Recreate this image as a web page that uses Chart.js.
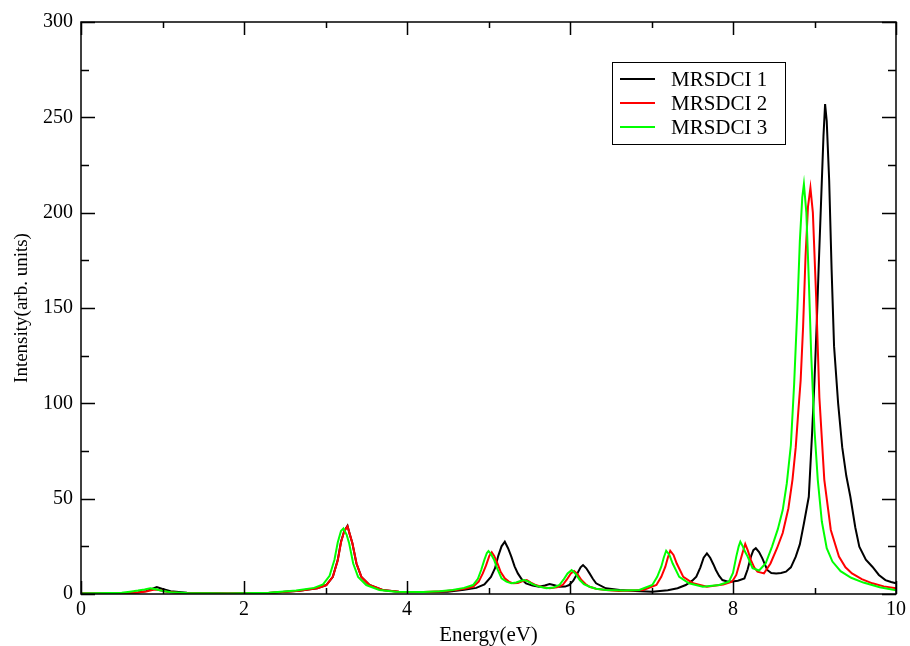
<!DOCTYPE html>
<html>
<head>
  <title>MRSDCI spectra</title>
  <script src="https://cdn.jsdelivr.net/npm/chart.js"></script>
  <style>
    html, body {
      margin: 0;
      padding: 0;
      background: #fff;
    }
  </style>
</head>
<body>
  <canvas id="myChart" width="910" height="646"></canvas>
  <script>
    const seriesNames = ['MRSDCI 1', 'MRSDCI 2', 'MRSDCI 3'];
    const seriesColors = ['#000000', '#ff0000', '#00ff00'];
    const xTickValues = [0, 2, 4, 6, 8, 10];
    const yTickValues = [0, 50, 100, 150, 200, 250, 300];

    // MRSDCI 1
    const energy1 = [
      0, 0.5, 0.7, 0.8, 0.87, 0.93, 1.0, 1.1, 1.3, 1.8,
      2.3, 2.68, 2.9, 3.01, 3.09, 3.15, 3.19, 3.23, 3.27, 3.3,
      3.33, 3.38, 3.44, 3.54, 3.7, 3.9, 4.2, 4.5, 4.7, 4.85,
      4.95, 5.03, 5.08, 5.12, 5.16, 5.2, 5.24, 5.28, 5.32, 5.36,
      5.41, 5.46, 5.54, 5.62, 5.69, 5.75, 5.81, 5.87, 5.94, 5.99,
      6.04, 6.09, 6.13, 6.16, 6.2, 6.24, 6.28, 6.32, 6.44, 6.61,
      6.8, 7.01, 7.2, 7.32, 7.42, 7.5, 7.55, 7.6, 7.64, 7.68,
      7.72, 7.76, 7.79, 7.83, 7.87, 7.93, 7.99, 8.06, 8.14, 8.18,
      8.22, 8.25, 8.28, 8.32, 8.36, 8.42, 8.47, 8.53, 8.59, 8.65,
      8.71, 8.77, 8.82, 8.87, 8.93, 8.97, 9.0, 9.03, 9.05, 9.08,
      9.11, 9.13, 9.15, 9.18, 9.21, 9.24, 9.29, 9.34, 9.39, 9.44,
      9.5, 9.55, 9.63, 9.71, 9.79, 9.87, 9.94, 10
    ];
    const intensity1 = [
      0.2, 0.4, 0.8, 1.5, 2.6, 3.6, 2.6, 1.5, 0.6, 0.3,
      0.5, 1.7, 3, 4.7, 9, 17.8, 27.4, 33, 35.8, 31,
      26.6, 16, 9, 4.7, 2.1, 1.2, 1, 1.2, 2.2, 3.2,
      5, 9, 13.5, 20, 25, 27.4, 24, 19.6, 14.5, 10.8,
      7.6, 5.6, 4.4, 3.8, 4.5, 5.2, 4.6, 3.8, 3.9, 4.7,
      7, 10.8, 14, 15.2, 13.5, 10.8, 8, 5.6, 3, 2.1,
      1.6, 1.2, 2, 3, 4.7, 7, 9.1, 14, 19, 21.3,
      19, 15.5, 12.6, 9.5, 7.3, 6.6, 6.5, 7, 8.2, 13,
      19.6, 23, 24, 22, 18.7, 12.6, 11, 10.8, 11, 11.7,
      14, 19.6, 26, 37, 51, 84, 112, 145, 170, 205,
      240, 257, 248, 217, 170, 130, 100, 77, 62, 51,
      35, 24.8, 18, 14.3, 10, 7.3, 6.3, 5.6
    ];

    // MRSDCI 2
    const energy2 = [
      0, 0.5, 0.7, 0.8, 0.86, 0.91, 0.97, 1.05, 1.2, 1.8,
      2.3, 2.68, 2.9, 3.01, 3.09, 3.15, 3.19, 3.23, 3.27, 3.3,
      3.33, 3.38, 3.44, 3.54, 3.7, 3.9, 4.2, 4.45, 4.6, 4.72,
      4.81, 4.88, 4.93, 4.97, 5.01, 5.04, 5.07, 5.11, 5.15, 5.2,
      5.25, 5.3, 5.36, 5.42, 5.47, 5.52, 5.58, 5.66, 5.75, 5.84,
      5.91, 5.96, 6.01, 6.05, 6.09, 6.14, 6.19, 6.24, 6.32, 6.44,
      6.6, 6.9, 7.06, 7.12, 7.17, 7.2, 7.23, 7.27, 7.31, 7.39,
      7.51, 7.68, 7.88, 7.99, 8.04, 8.08, 8.12, 8.15, 8.18, 8.22,
      8.26, 8.3, 8.38, 8.46, 8.54, 8.61, 8.68, 8.73, 8.77, 8.8,
      8.83, 8.86, 8.89, 8.92, 8.95, 8.98, 9.02, 9.06, 9.12, 9.2,
      9.3, 9.38, 9.46, 9.58, 9.71, 9.85, 10
    ];
    const intensity2 = [
      0.2, 0.4, 0.8, 1.3, 2, 2.4, 2, 1.2, 0.5, 0.3,
      0.5, 1.7, 3, 4.7, 9, 17.5, 27, 33, 35.5, 31,
      26.6, 16, 9, 4.7, 2.1, 1.2, 1, 1.4, 2.1, 2.9,
      3.8, 6.5, 10.8, 15, 20, 21.9, 20, 16, 11.5, 8.2,
      6.5, 5.6, 5.8, 6.8, 7.3, 6, 4.7, 3.6, 3, 3.5,
      4.7, 7.5, 10.8, 12, 10.5, 7.3, 5.2, 3.8, 2.8, 2.1,
      1.6, 2.1, 4.7, 9, 14.3, 19, 22.7, 20.5, 16, 9,
      5.6, 3.8, 5, 6.5, 10, 16, 22, 26.2, 23, 17.8,
      14, 11.7, 10.8, 16, 24, 32, 45, 60, 77, 95,
      112, 140, 177, 203, 213, 200, 156, 103, 60, 33.6,
      19.6, 14, 10.8, 7.8, 5.6, 4, 3
    ];

    // MRSDCI 3
    const energy3 = [
      0, 0.5, 0.6, 0.7, 0.78, 0.85, 0.92, 0.99, 1.1, 1.3,
      1.8, 2.3, 2.64, 2.86, 2.97, 3.05, 3.11, 3.15, 3.19, 3.22,
      3.26, 3.29, 3.34, 3.4, 3.5, 3.66, 3.86, 4.2, 4.4, 4.56,
      4.7, 4.81, 4.87, 4.91, 4.95, 4.98, 5.0, 5.03, 5.07, 5.11,
      5.16, 5.22, 5.28, 5.34, 5.39, 5.44, 5.49, 5.54, 5.62, 5.71,
      5.8, 5.87, 5.92, 5.97, 6.02, 6.07, 6.12, 6.17, 6.24, 6.32,
      6.44, 6.65, 6.85, 7.01, 7.07, 7.12, 7.15, 7.18, 7.22, 7.26,
      7.34, 7.46, 7.63, 7.83, 7.95, 8.0, 8.04, 8.07, 8.09, 8.12,
      8.15, 8.18, 8.24, 8.32, 8.4, 8.48, 8.55, 8.61, 8.66, 8.71,
      8.75, 8.79, 8.82, 8.85, 8.87, 8.9, 8.93, 8.96, 9.0, 9.04,
      9.09, 9.15, 9.22, 9.32, 9.45, 9.6, 9.8, 10
    ];
    const intensity3 = [
      0.2, 0.6, 1.2, 1.8, 2.4, 3, 2.5, 1.7, 0.9, 0.5,
      0.3, 0.6, 1.8, 3.2, 5, 9.5, 18, 27, 33, 34.4,
      31, 26.6, 16, 9, 4.7, 2.1, 1.2, 1, 1.4, 2.1,
      3.2, 4.7, 8, 12.6, 18, 21.5, 22.5, 21, 17.8, 13,
      8.2, 6.5, 5.6, 6, 6.8, 7.3, 6.5, 5.2, 3.9, 3,
      3.4, 4.7, 7.5, 10.8, 12.6, 10.5, 7.3, 5.2, 3.8, 2.8,
      2.1, 1.8, 2.1, 4.7, 9, 14.3, 19, 22.7, 20.5, 16,
      9, 5.6, 3.8, 4.7, 6.5, 11, 19.6, 25, 27.4, 25,
      22, 19.6, 13.5, 12.3, 16, 25, 34, 44, 58, 78,
      110, 150, 185, 208, 215, 200, 165, 125, 86, 60,
      38, 24, 17, 12, 8.5, 6, 3.5, 2
    ];

    const energies = [energy1, energy2, energy3];
    const intensities = [intensity1, intensity2, intensity3];
    const serifFont = '"Liberation Serif", "Times New Roman", serif';

    // frame round the plot with inward ticks on all four sides
    const frameTicks = {
      id: 'frameTicks',
      afterDatasetsDraw(chart) {
        const { ctx, chartArea: a, scales: { x, y } } = chart;
        ctx.save();
        ctx.strokeStyle = '#000';
        ctx.lineWidth = 1.5;
        ctx.beginPath();
        for (let v = 0; v <= 10; v += 1) {
          const px = Math.round(x.getPixelForValue(v)) + 0.5;
          const len = v % 2 === 0 ? 13 : 6;
          ctx.moveTo(px, a.bottom);
          ctx.lineTo(px, a.bottom - len);
          ctx.moveTo(px, a.top);
          ctx.lineTo(px, a.top + len);
        }
        for (let v = 0; v <= 300; v += 25) {
          const py = Math.round(y.getPixelForValue(v)) + 0.5;
          const len = v % 50 === 0 ? 14 : 8;
          ctx.moveTo(a.left, py);
          ctx.lineTo(a.left + len, py);
          ctx.moveTo(a.right, py);
          ctx.lineTo(a.right - len, py);
        }
        ctx.stroke();
        ctx.strokeRect(a.left, a.top, a.right - a.left, a.bottom - a.top);
        ctx.restore();
      }
    };

    // boxed legend inside the plot, upper right
    const boxLegend = {
      id: 'boxLegend',
      afterDraw(chart) {
        const ctx = chart.ctx;
        const bx = 612, by = 62, bw = 173, bh = 82;
        ctx.save();
        ctx.fillStyle = '#fff';
        ctx.fillRect(bx, by, bw, bh);
        ctx.strokeStyle = '#000';
        ctx.lineWidth = 1;
        ctx.strokeRect(bx + 0.5, by + 0.5, bw, bh);
        ctx.font = '21px ' + serifFont;
        ctx.textBaseline = 'middle';
        ctx.textAlign = 'left';
        chart.data.datasets.forEach((ds, i) => {
          const ly = by + 17 + i * 24;
          ctx.strokeStyle = ds.borderColor;
          ctx.lineWidth = 2;
          ctx.beginPath();
          ctx.moveTo(bx + 8, ly);
          ctx.lineTo(bx + 43, ly);
          ctx.stroke();
          ctx.fillStyle = '#000';
          ctx.fillText(ds.label, bx + 59, ly + 1);
        });
        ctx.restore();
      }
    };

    const ctx = document.getElementById('myChart').getContext('2d');
    const chart = new Chart(ctx, {
      type: 'line',
      data: {
        datasets: seriesNames.map((name, i) => ({
          label: name,
          data: energies[i].map((e, j) => ({ x: e, y: intensities[i][j] })),
          borderColor: seriesColors[i],
          borderWidth: 2,
          pointRadius: 0,
          tension: 0,
          fill: false,
          order: 2 - i
        }))
      },
      options: {
        responsive: false,
        animation: false,
        layout: { padding: { top: 22, right: 13, left: 0, bottom: 0 } },
        plugins: {
          legend: { display: false },
          tooltip: { enabled: false }
        },
        scales: {
          x: {
            type: 'linear',
            min: 0,
            max: 10,
            afterBuildTicks: s => { s.ticks = xTickValues.map(v => ({ value: v })); },
            afterFit: s => { s.height = 52; },
            grid: { display: false, drawTicks: false },
            border: { display: false },
            ticks: {
              color: '#000',
              padding: 4,
              maxRotation: 0,
              font: { family: serifFont, size: 20 }
            },
            title: {
              display: true,
              text: 'Energy(eV)',
              color: '#000',
              padding: { top: 0, bottom: 0 },
              font: { family: serifFont, size: 21, lineHeight: 1 }
            }
          },
          y: {
            type: 'linear',
            min: 0,
            max: 300,
            afterBuildTicks: s => { s.ticks = yTickValues.map(v => ({ value: v })); },
            afterFit: s => { s.width = 81; },
            grid: { display: false, drawTicks: false },
            border: { display: false },
            ticks: {
              color: '#000',
              padding: 8,
              font: { family: serifFont, size: 20 }
            },
            title: {
              display: true,
              text: 'Intensity(arb. units)',
              color: '#000',
              padding: { top: 13, bottom: 0 },
              font: { family: serifFont, size: 19, lineHeight: 1 }
            }
          }
        }
      },
      plugins: [frameTicks, boxLegend]
    });
  </script>
</body>
</html>
